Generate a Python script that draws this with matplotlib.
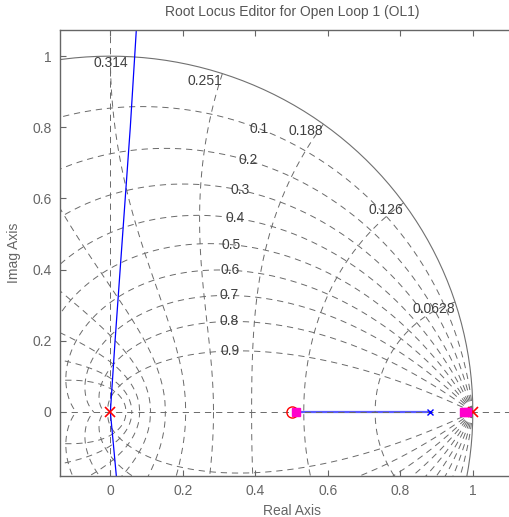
import numpy as np
import matplotlib
matplotlib.use('Agg')
from matplotlib import pyplot as plt

plt.rcParams['font.family'] = ['Liberation Sans', 'DejaVu Sans']
plt.rcParams['lines.scale_dashes'] = False

# sample time used for the natural frequency labels of the z-grid
T = 5.0

# damping ratio lines and natural frequency lines (in units of pi/T)
zeta_vals = [0.1, 0.2, 0.3, 0.4, 0.5, 0.6, 0.7, 0.8, 0.9]
wn_steps = [0.1, 0.2, 0.3, 0.4, 0.5, 0.6, 0.7, 0.8, 0.9, 1.0]

# root locus branches
locus_up_re = [0.0, 0.013, 0.027, 0.041, 0.055, 0.072]
locus_up_im = [0.0, 0.2, 0.4, 0.6, 0.8, 1.08]
locus_dn_re = [0.0, 0.0165]
locus_dn_im = [0.0, -0.18]
locus_real_re = [0.527, 0.883]

# open loop poles / zeros, compensator pole, closed loop poles
ol_poles = [0.0, 1.0]
ol_zeros = [0.5]
comp_poles = [0.883]
cl_poles = [0.513, 0.975, 0.985]

grid_col = '#6a6a6a'
text_col = '#404040'
axis_col = '#666666'
dash = (0, (4.5, 3.5))

fig = plt.figure(figsize=(5.10, 5.17), dpi=100)
ax = fig.add_axes([0.1176, 0.0793, 0.909, 0.863])

# damping ratio curves
for z in zeta_vals:
    wd = np.sqrt(1 - z**2)
    w = np.linspace(0, np.pi / wd, 400)
    zz = np.exp(w * (-z + 1j * wd))
    ax.plot(zz.real, zz.imag, color=grid_col, lw=0.7, ls=dash)
    ax.plot(zz.real, -zz.imag, color=grid_col, lw=0.7, ls=dash)
    p = np.exp(1.1 * (-z + 1j * wd))
    ax.text(p.real, p.imag, '%g' % z, ha='center', va='center',
            fontsize=10, color=text_col, clip_on=True)

# natural frequency curves
zeta_line = np.linspace(0, 1, 200)
for k in wn_steps:
    th = k * np.pi
    zz = np.exp(th * (-zeta_line + 1j * np.sqrt(1 - zeta_line**2)))
    ax.plot(zz.real, zz.imag, color=grid_col, lw=0.7, ls=dash)
    ax.plot(zz.real, -zz.imag, color=grid_col, lw=0.7, ls=dash)
    c = np.cos(th)
    if c < -0.01:
        continue
    ha = 'center' if abs(c) < 0.01 else 'right'
    ax.text(c, np.sin(th), '%.3g' % (th / T), ha=ha, va='top',
            fontsize=10, color=text_col, clip_on=True)

# unit circle
t = np.linspace(0, 2 * np.pi, 400)
ax.plot(np.cos(t), np.sin(t), color='#707070', lw=0.8)

# axis lines
ax.axhline(0, color=grid_col, lw=0.7, ls=dash)
ax.axvline(0, color=grid_col, lw=0.7, ls=dash)

# root locus
ax.plot(locus_real_re, [0, 0], color='#5a5aff', lw=1.6, zorder=1)
ax.plot(locus_up_re, locus_up_im, color='blue', lw=0.9)
ax.plot(locus_dn_re, locus_dn_im, color='blue', lw=0.9)

ax.plot(ol_poles, [0] * len(ol_poles), 'x', color='red', ms=7, mew=1.2)
ax.plot(ol_zeros, [0] * len(ol_zeros), 'o', mfc='none', mec='red', ms=8, mew=1)
ax.plot(comp_poles, [0] * len(comp_poles), 'x', color='blue', ms=5, mew=1)
ax.plot(cl_poles, [0] * len(cl_poles), 's', color='#ff00cc', ms=6, zorder=5)

ax.set_xlim(-0.139, 1.14)
ax.set_ylim(-0.18, 1.074)
ax.set_xticks([0, 0.2, 0.4, 0.6, 0.8, 1])
ax.set_xticklabels(['0', '0.2', '0.4', '0.6', '0.8', '1'])
ax.set_yticks([0, 0.2, 0.4, 0.6, 0.8, 1])
ax.set_yticklabels(['0', '0.2', '0.4', '0.6', '0.8', '1'])
ax.tick_params(direction='in', top=True, right=True, length=4,
               color=axis_col, labelcolor='#666666', labelsize=10, pad=6)
for s in ax.spines.values():
    s.set_color(axis_col)
    s.set_linewidth(1.0)

ax.set_xlabel('Real Axis', fontsize=10, color='#666666', labelpad=4)
ax.set_ylabel('Imag Axis', fontsize=10, color='#666666', labelpad=8)
ax.set_title('Root Locus Editor for Open Loop 1 (OL1)', fontsize=10,
             color='#555555', pad=10)

fig.savefig('out.png', dpi=100)
